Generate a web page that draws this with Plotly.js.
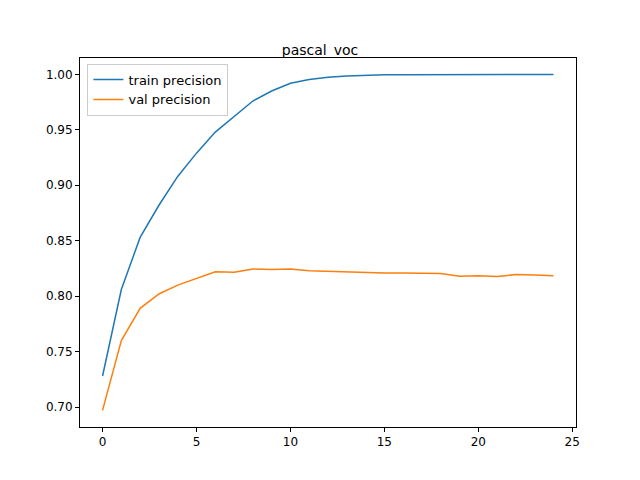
<!DOCTYPE html>
<html><head><script src="https://cdn.plot.ly/plotly-3.0.1.min.js"></script>
<style>body{margin:0}</style></head><body>
<div id="c" style="width:640px;height:480px"></div>
<script>
const epochs = Array.from({length:25},(_,i)=>i);
const trainPrecision = [0.728,0.806,0.853,0.882,0.908,0.929,0.948,0.962,0.976,0.985,0.992,0.9955,0.9975,0.9985,0.9993,0.9996,0.9998,0.9999,0.9999,1.0,1.0,1.0,1.0,1.0,1.0];
const valPrecision = [0.697,0.760,0.789,0.802,0.810,0.816,0.822,0.8215,0.8245,0.824,0.8245,0.823,0.8225,0.822,0.821,0.821,0.821,0.821,0.8205,0.818,0.8183,0.8177,0.8195,0.819,0.8185];
const tickVals = [0.70,0.75,0.80,0.85,0.90,0.95,1.00];
const tickText = ["0.70","0.75","0.80","0.85","0.90","0.95","1.00"];
const ax = {showgrid:false,zeroline:false,showline:true,mirror:true,linecolor:'black',linewidth:1,ticks:'outside',ticklen:4,tickcolor:'black'};
Plotly.newPlot('c',[
 {x:epochs,y:trainPrecision,name:'train precision',mode:'lines',line:{color:'#1f77b4',width:1.5}},
 {x:epochs,y:valPrecision,name:'val precision',mode:'lines',line:{color:'#ff7f0e',width:1.5}}
],{
 width:640,height:480,paper_bgcolor:'white',plot_bgcolor:'white',
 font:{family:'DejaVu Sans',size:12,color:'black'},
 title:{text:'pascal_voc',x:0.5,xanchor:'center',y:0.885,yanchor:'bottom',font:{size:14}},
 margin:{l:80,r:64,t:57.6,b:52.8},
 showlegend:true,
 legend:{x:0.015,y:0.985,xanchor:'left',yanchor:'top',bordercolor:'#cccccc',borderwidth:1,bgcolor:'white',font:{size:13}},
 xaxis:Object.assign({},ax,{range:[-1.2,25.2],tickvals:[0,5,10,15,20,25]}),
 yaxis:Object.assign({},ax,{range:[0.682,1.0148],tickvals:tickVals,ticktext:tickText})
},{displayModeBar:false});
</script></body></html>
